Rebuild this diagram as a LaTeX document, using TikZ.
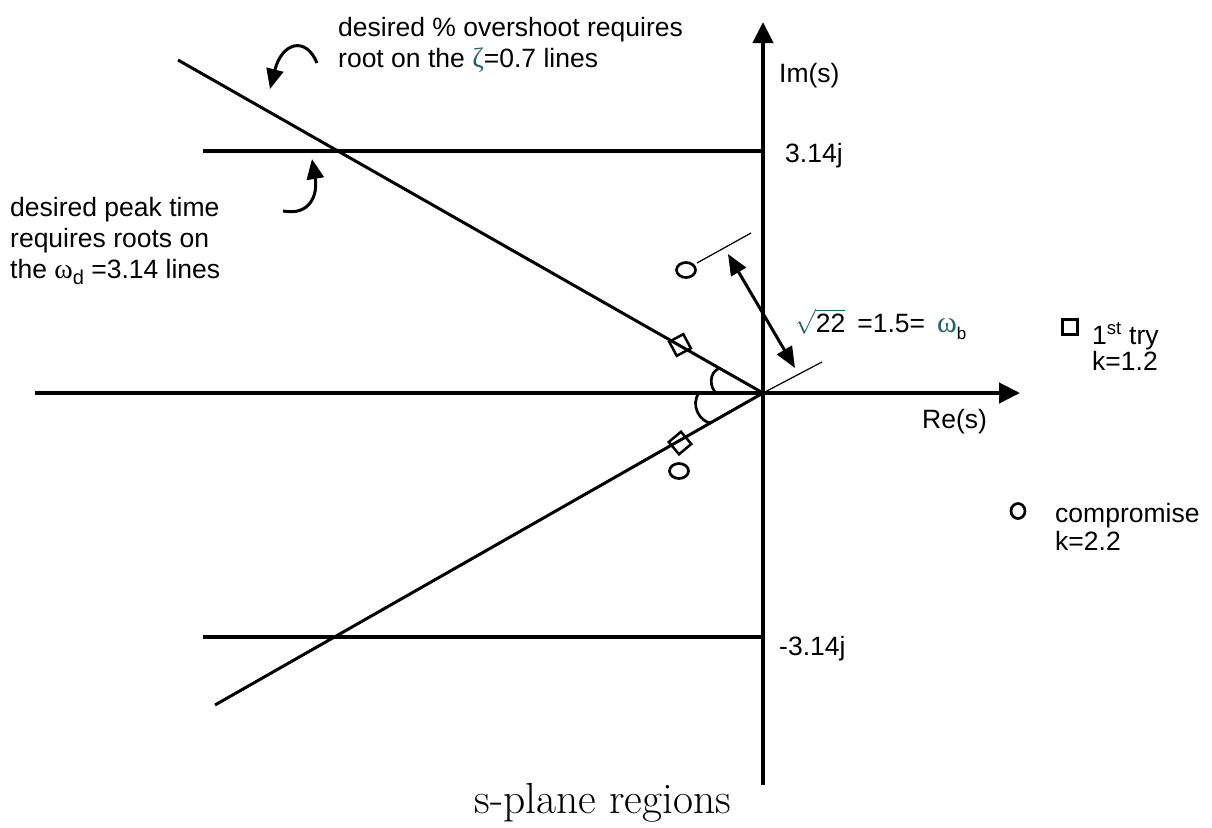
\documentclass[tikz,border=0pt]{standalone}
\usepackage{fontspec}
\newfontfamily\arial{Liberation Sans}
\newfontfamily\grk{Liberation Serif}
\usetikzlibrary{arrows.meta,shapes.geometric}
\definecolor{tealc}{RGB}{35,100,100}
\begin{document}
\begin{tikzpicture}[x=1pt,y=-1pt,
  lbl/.style={font=\arial\fontsize{26.5}{32}\selectfont, anchor=base west, inner sep=0pt},
  axisline/.style={line width=4.3pt, -{Triangle[length=21pt,width=20pt]}},
  zetaline/.style={line width=3pt},
  wline/.style={line width=3.3pt},
  thinline/.style={line width=1.2pt},
  curvearrow/.style={line width=3pt, -{Triangle[length=20pt,width=17pt]}},
  dblarrow/.style={line width=3pt, {Triangle[length=21pt,width=17pt]}-{Triangle[length=21pt,width=17pt]}},
  diam/.style={draw, line width=2.5pt, minimum size=16pt, inner sep=0pt},
  ring/.style={draw, line width=2.7pt, ellipse, minimum width=19pt, minimum height=15pt, inner sep=0pt},
  anglearc/.style={line width=2.7pt}
]
\useasboundingbox (0,0) rectangle (1212,827);

% coordinates
\coordinate (O) at (763,393);
\coordinate (reL) at (35,393);
\coordinate (reR) at (1020,393);
\coordinate (imB) at (763,785);
\coordinate (imT) at (763,22);
\coordinate (zU) at (178,60);
\coordinate (zL) at (215,705);
\coordinate (wUL) at (203,151);
\coordinate (wUR) at (763,151);
\coordinate (wLL) at (203,637);
\coordinate (wLR) at (763,637);

% axes
\draw[axisline] (reL) -- (reR);
\draw[axisline] (imB) -- (imT);

% damping lines
\draw[zetaline] (O) -- (zU);
\draw[zetaline] (O) -- (zL);

% omega_d lines
\draw[wline, line width=3.8pt] (wUL) -- (wUR);
\draw[wline] (wLL) -- (wLR);

% angle arcs
\draw[anglearc] (720,368) .. controls (708,372) and (710,388) .. (716,393);
\draw[anglearc] (699,393) .. controls (690,405) and (700,422) .. (711,423);

% roots
\node[diam, rotate=28] (d1) at (680,345) {};
\node[diam, rotate=40] (d2) at (680,443) {};
\node[ring] (c1) at (686,270) {};
\node[ring] (c2) at (679,471) {};

% distance lines
\coordinate (t1a) at (697,263);
\coordinate (t1b) at (751,233);
\coordinate (t2b) at (822,362);
\draw[thinline] (t1a) -- (t1b);
\draw[thinline] (O) -- (t2b);
\coordinate (arA) at (728,254);
\coordinate (arB) at (795,368);
\draw[dblarrow] (arA) -- (arB);

% curved arrows
\coordinate (ca1s) at (317,63);
\coordinate (ca1e) at (270,89);
\draw[curvearrow] (ca1s) .. controls (306,36) and (282,42) .. (ca1e);
\coordinate (ca2s) at (283,211);
\coordinate (ca2e) at (312,159);
\draw[curvearrow] (ca2s) .. controls (310,216) and (318,195) .. (ca2e);

% labels
\node[lbl] (t1) at (338,36) {desired \% overshoot requires};
\node[lbl] (t2) at (338,67) {root on the {\color{tealc}\grk\fontsize{28}{32}\selectfont ζ}=0.7 lines};
\node[lbl] (p1) at (10,216) {desired peak time};
\node[lbl] (p2) at (10,247) {requires roots on};
\node[lbl] (p3) at (10,278) {the {\grk\fontsize{28}{32}\selectfont ω}\raisebox{-6pt}{\fontsize{20}{20}\selectfont d} =3.14 lines};
\node[lbl] (im) at (779,82) {Im(s)};
\node[lbl] (re) at (922,428) {Re(s)};
\node[lbl] (pj) at (785,162) {3.14j};
\node[lbl] (mj) at (779,655) {-3.14j};
\node[lbl] (wb) at (795,332) {$\color{tealc}\sqrt{\mbox{\color{black}\arial 22}}$\hspace{0.45em}=1.5=\hspace{0.45em}{\color{tealc}\grk\fontsize{30}{32}\selectfont ω}\raisebox{-7pt}{\fontsize{17}{17}\selectfont b}};

% legend
\node[draw, line width=2.7pt, minimum size=15pt, inner sep=0pt] (lsq) at (1070,327) {};
\node[lbl] (l1) at (1092,344) {1\textsuperscript{st} try};
\node[lbl] (l2) at (1092,370) {k=1.2};
\node[draw, line width=2.7pt, ellipse, minimum width=14pt, minimum height=15pt, inner sep=0pt] (lci) at (1018,511) {};
\node[lbl] (l3) at (1055,522) {compromise};
\node[lbl] (l4) at (1055,550) {k=2.2};

% caption
\node[font=\fontsize{43.5}{46}\selectfont, anchor=base, inner sep=0pt] (cap) at (603,813) {s-plane regions};
\end{tikzpicture}
\end{document}
